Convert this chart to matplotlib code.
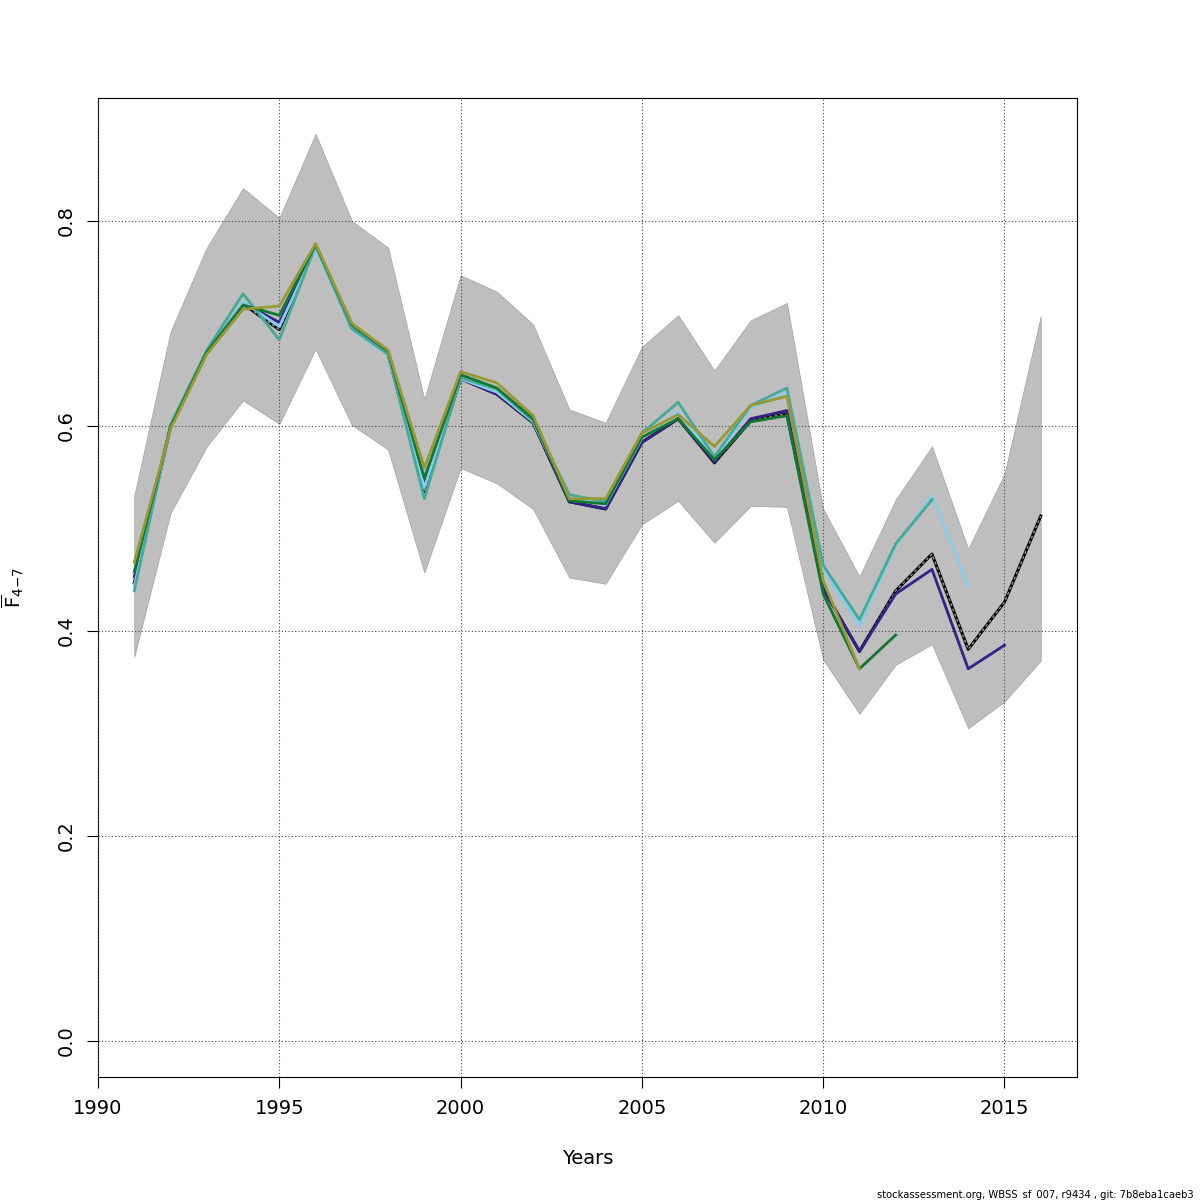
import matplotlib
matplotlib.use("Agg")
from matplotlib import pyplot as plt

years = list(range(1991, 2017))

# confidence band of the full run
band_low = [0.375, 0.515, 0.580, 0.625, 0.602, 0.675, 0.601, 0.577, 0.457, 0.559,
            0.544, 0.519, 0.452, 0.446, 0.504, 0.527, 0.486, 0.522, 0.521, 0.372,
            0.319, 0.367, 0.387, 0.305, 0.331, 0.371]
band_high = [0.532, 0.692, 0.774, 0.832, 0.803, 0.885, 0.800, 0.774, 0.626, 0.747,
             0.731, 0.699, 0.616, 0.603, 0.677, 0.708, 0.654, 0.703, 0.720, 0.519,
             0.453, 0.528, 0.580, 0.480, 0.553, 0.707]

# full run (terminal year 2016)
fbar_full = [0.447, 0.599, 0.672, 0.719, 0.694, 0.776, 0.695, 0.670, 0.536, 0.646,
             0.631, 0.603, 0.526, 0.519, 0.584, 0.607, 0.564, 0.605, 0.612, 0.441,
             0.380, 0.439, 0.475, 0.382, 0.428, 0.512]

# retrospective peels
peel1 = [0.453, 0.599, 0.672, 0.720, 0.701, 0.776, 0.695, 0.670, 0.543, 0.646,
         0.631, 0.604, 0.526, 0.519, 0.584, 0.607, 0.565, 0.607, 0.615, 0.441,
         0.380, 0.436, 0.460, 0.363, 0.386]
peel2 = [0.444, 0.599, 0.672, 0.721, 0.697, 0.773, 0.694, 0.669, 0.540, 0.646,
         0.633, 0.604, 0.530, 0.523, 0.588, 0.614, 0.568, 0.617, 0.632, 0.460,
         0.405, 0.483, 0.532, 0.444]
peel3 = [0.439, 0.601, 0.674, 0.729, 0.684, 0.776, 0.695, 0.670, 0.529, 0.647,
         0.636, 0.605, 0.533, 0.526, 0.593, 0.623, 0.570, 0.620, 0.637, 0.464,
         0.411, 0.485, 0.528]
peel4 = [0.458, 0.599, 0.672, 0.718, 0.708, 0.777, 0.699, 0.673, 0.549, 0.650,
         0.637, 0.607, 0.527, 0.524, 0.589, 0.607, 0.567, 0.604, 0.610, 0.436,
         0.363, 0.396]
peel5 = [0.467, 0.597, 0.670, 0.714, 0.717, 0.778, 0.700, 0.674, 0.559, 0.653,
         0.642, 0.610, 0.529, 0.529, 0.593, 0.611, 0.580, 0.620, 0.629, 0.449,
         0.363]

peels = [peel1, peel2, peel3, peel4, peel5]
peel_colors = ['#332288', '#88CCEE', '#44AA99', '#117733', '#999933']

fig = plt.figure(figsize=(12, 12), dpi=100)
ax = fig.add_axes([0.0817, 0.1025, 0.8158, 0.8158])

ax.fill_between(years, band_low, band_high, facecolor='#bebebe',
                edgecolor='#a8a8a8', linewidth=0.6, zorder=1)

ax.grid(True, linestyle=(0, (1, 2)), color='#444444', linewidth=0.8, zorder=2)

ax.plot(years, fbar_full, color='black', linewidth=2.2, zorder=3)
ax.plot(years, fbar_full, color='#999999', linewidth=1.0,
        linestyle=(0, (2, 2)), zorder=3)
for p, c in zip(peels, peel_colors):
    ax.plot(years[:len(p)], p, color=c, linewidth=2.0, zorder=4)

ax.set_xlim(1990, 2017)
ax.set_ylim(-0.0354, 0.92)
ax.set_xticks([1990, 1995, 2000, 2005, 2010, 2015])
ax.set_yticks([0.0, 0.2, 0.4, 0.6, 0.8])
ax.set_yticklabels(['0.0', '0.2', '0.4', '0.6', '0.8'], rotation=90, va='center')
ax.tick_params(direction='out', length=8, width=0.8, labelsize=14, pad=8)
for s in ax.spines.values():
    s.set_linewidth(0.8)
ax.set_axisbelow(False)

ax.set_xlabel('Years', fontsize=14, labelpad=22)
ax.set_ylabel(r'$\overline{\mathrm{F}}_{4{-}7}$', fontsize=14, labelpad=22)

fig.text(0.995, 0.0025, 'stockassessment.org, WBSS_sf_007, r9434 , git: 7b8eba1caeb3',
         ha='right', va='baseline', fontsize=7.2)

fig.savefig('out.png', dpi=100)
